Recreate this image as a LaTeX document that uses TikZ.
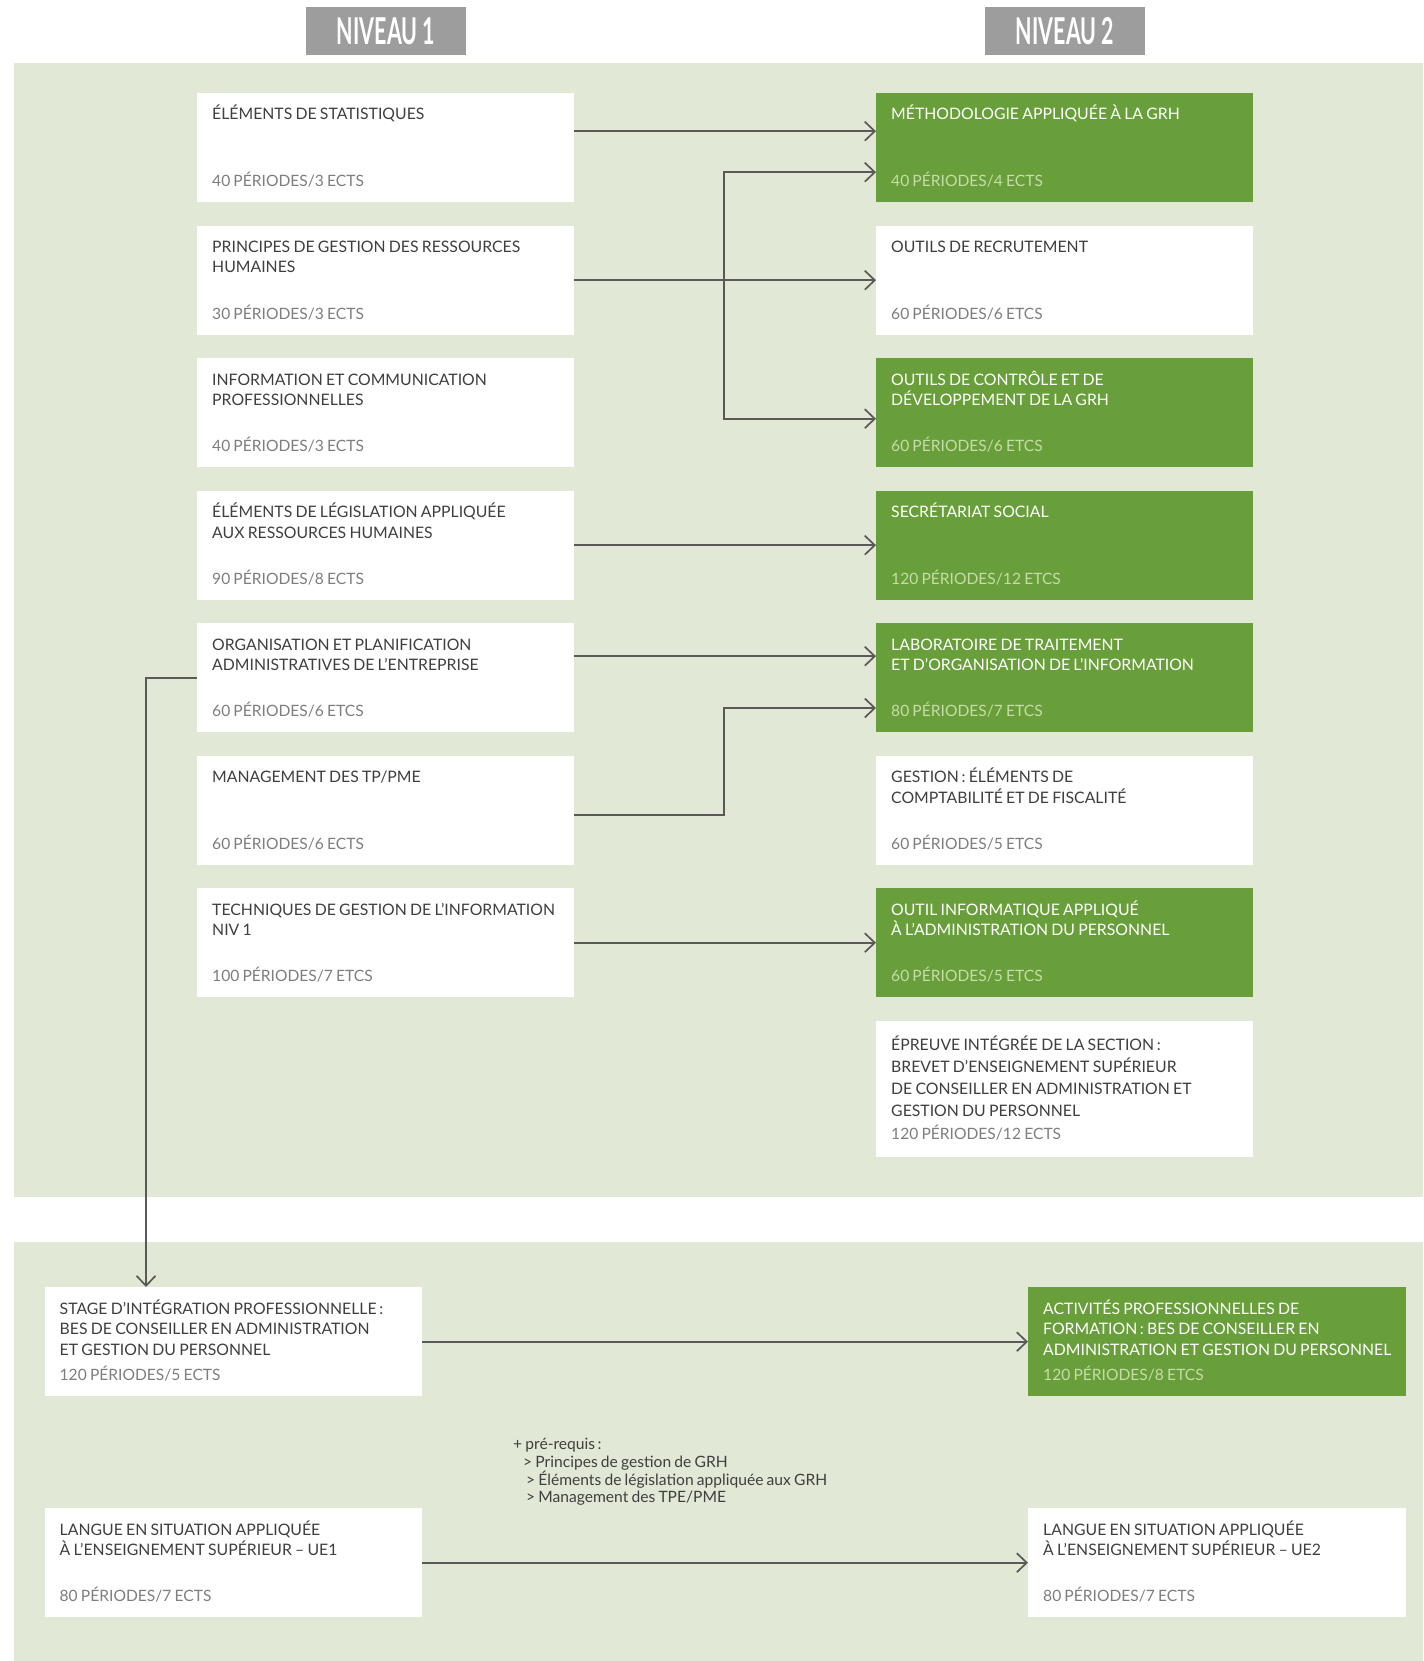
\documentclass[tikz,border=0pt]{standalone}
\usepackage{fontspec}
\setmainfont{Lato}[WordSpace=0.8]
\newfontfamily\headfont[FakeStretch=0.58]{Lato}
\usetikzlibrary{positioning,arrows.meta}
\definecolor{fond}{HTML}{E1E8D5}
\definecolor{vert}{HTML}{689F3A}
\definecolor{gristitre}{HTML}{9D9D9D}
\definecolor{encre}{HTML}{3F3F3F}
\definecolor{pale}{HTML}{7E7E7E}
\definecolor{palevert}{HTML}{C6DCAA}
\definecolor{trait}{HTML}{595959}

\tikzset{
  cours/.style={rectangle, fill=white, anchor=north west, inner sep=0pt,
    minimum width=377pt, minimum height=109pt},
  coursvert/.style={cours, fill=vert},
  % base = ligne du bas du titre
  titre/.style={anchor=base west, align=left, inner sep=0pt, text=encre,
    font=\fontsize{15.8}{20.5}\selectfont},
  titrevert/.style={titre, text=white},
  duree/.style={anchor=base west, inner sep=0pt, text=pale,
    font=\fontsize{15.6}{18}\selectfont},
  dureevert/.style={duree, text=palevert},
  entete/.style={fill=gristitre, text=white, minimum width=160pt,
    minimum height=48pt, inner sep=0pt,
    font=\headfont\bfseries\fontsize{37}{37}\selectfont},
  note/.style={anchor=north west, align=left, inner sep=0pt, text=encre,
    font=\fontsize{15.6}{17.8}\selectfont},
  lien/.style={draw=trait, line width=1.7pt,
    -{Straight Barb[length=10pt,width=19pt]}},
}

\begin{document}
\begin{tikzpicture}[x=1pt,y=-1pt]
  \useasboundingbox (0,0) rectangle (1423,1661);
  % fonds
  \fill[fond] (14,63) rectangle (1423,1197);
  \fill[fond] (14,1242) rectangle (1423,1661);
  % en-tetes
  \node (niv1) [entete] at (386,31) {NIVEAU 1};
  \node (niv2) [entete] at (1065,31) {NIVEAU 2};

  % niveau 1
  \node (stat) [cours] at (197,93) {};
  \node (stat-t) [titre] at ([shift={(15,27)}]stat.north west) {ÉLÉMENTS DE STATISTIQUES};
  \node (stat-d) [duree] at ([shift={(15,-15.5)}]stat.south west) {40 PÉRIODES/3 ECTS};

  \node (grh) [cours] at (197,225.5) {};
  \node (grh-t) [titre] at ([shift={(15,47.5)}]grh.north west) {PRINCIPES DE GESTION DES RESSOURCES\\HUMAINES};
  \node (grh-d) [duree] at ([shift={(15,-15.5)}]grh.south west) {30 PÉRIODES/3 ECTS};

  \node (comm) [cours] at (197,358) {};
  \node (comm-t) [titre] at ([shift={(15,47.5)}]comm.north west) {INFORMATION ET COMMUNICATION\\PROFESSIONNELLES};
  \node (comm-d) [duree] at ([shift={(15,-15.5)}]comm.south west) {40 PÉRIODES/3 ECTS};

  \node (legis) [cours] at (197,490.5) {};
  \node (legis-t) [titre] at ([shift={(15,47.5)}]legis.north west) {ÉLÉMENTS DE LÉGISLATION APPLIQUÉE\\AUX RESSOURCES HUMAINES};
  \node (legis-d) [duree] at ([shift={(15,-15.5)}]legis.south west) {90 PÉRIODES/8 ECTS};

  \node (orga) [cours] at (197,623) {};
  \node (orga-t) [titre] at ([shift={(15,47.5)}]orga.north west) {ORGANISATION ET PLANIFICATION\\ADMINISTRATIVES DE L’ENTREPRISE};
  \node (orga-d) [duree] at ([shift={(15,-15.5)}]orga.south west) {60 PÉRIODES/6 ETCS};

  \node (mgmt) [cours] at (197,755.5) {};
  \node (mgmt-t) [titre] at ([shift={(15,27)}]mgmt.north west) {MANAGEMENT DES TP/PME};
  \node (mgmt-d) [duree] at ([shift={(15,-15.5)}]mgmt.south west) {60 PÉRIODES/6 ECTS};

  \node (tech) [cours] at (197,888) {};
  \node (tech-t) [titre] at ([shift={(15,47.5)}]tech.north west) {TECHNIQUES DE GESTION DE L’INFORMATION\\NIV 1};
  \node (tech-d) [duree] at ([shift={(15,-15.5)}]tech.south west) {100 PÉRIODES/7 ETCS};

  % niveau 2
  \node (meth) [coursvert] at (876,93) {};
  \node (meth-t) [titrevert] at ([shift={(15,27)}]meth.north west) {MÉTHODOLOGIE APPLIQUÉE À LA GRH};
  \node (meth-d) [dureevert] at ([shift={(15,-15.5)}]meth.south west) {40 PÉRIODES/4 ECTS};

  \node (recru) [cours] at (876,225.5) {};
  \node (recru-t) [titre] at ([shift={(15,27)}]recru.north west) {OUTILS DE RECRUTEMENT};
  \node (recru-d) [duree] at ([shift={(15,-15.5)}]recru.south west) {60 PÉRIODES/6 ETCS};

  \node (ctrl) [coursvert] at (876,358) {};
  \node (ctrl-t) [titrevert] at ([shift={(15,47.5)}]ctrl.north west) {OUTILS DE CONTRÔLE ET DE\\DÉVELOPPEMENT DE LA GRH};
  \node (ctrl-d) [dureevert] at ([shift={(15,-15.5)}]ctrl.south west) {60 PÉRIODES/6 ETCS};

  \node (secr) [coursvert] at (876,490.5) {};
  \node (secr-t) [titrevert] at ([shift={(15,27)}]secr.north west) {SECRÉTARIAT SOCIAL};
  \node (secr-d) [dureevert] at ([shift={(15,-15.5)}]secr.south west) {120 PÉRIODES/12 ETCS};

  \node (labo) [coursvert] at (876,623) {};
  \node (labo-t) [titrevert] at ([shift={(15,47.5)}]labo.north west) {LABORATOIRE DE TRAITEMENT\\ET D’ORGANISATION DE L’INFORMATION};
  \node (labo-d) [dureevert] at ([shift={(15,-15.5)}]labo.south west) {80 PÉRIODES/7 ETCS};

  \node (compta) [cours] at (876,755.5) {};
  \node (compta-t) [titre] at ([shift={(15,47.5)}]compta.north west) {GESTION\,: ÉLÉMENTS DE\\COMPTABILITÉ ET DE FISCALITÉ};
  \node (compta-d) [duree] at ([shift={(15,-15.5)}]compta.south west) {60 PÉRIODES/5 ETCS};

  \node (info) [coursvert] at (876,888) {};
  \node (info-t) [titrevert] at ([shift={(15,47.5)}]info.north west) {OUTIL INFORMATIQUE APPLIQUÉ\\À L’ADMINISTRATION DU PERSONNEL};
  \node (info-d) [dureevert] at ([shift={(15,-15.5)}]info.south west) {60 PÉRIODES/5 ETCS};

  \node (epreuve) [cours, minimum height=136pt] at (876,1020.5) {};
  \node (epreuve-t) [titre, font=\fontsize{15.8}{22}\selectfont] at ([shift={(15,96)}]epreuve.north west) {ÉPREUVE INTÉGRÉE DE LA SECTION\,:\\BREVET D’ENSEIGNEMENT SUPÉRIEUR\\DE CONSEILLER EN ADMINISTRATION ET\\GESTION DU PERSONNEL};
  \node (epreuve-d) [duree] at ([shift={(15,-17)}]epreuve.south west) {120 PÉRIODES/12 ECTS};

  % bas
  \node (stage) [cours, minimum width=377.5pt] at (44.5,1287) {};
  \node (stage-t) [titre] at ([shift={(15,68)}]stage.north west) {STAGE D’INTÉGRATION PROFESSIONNELLE\,:\\BES DE CONSEILLER EN ADMINISTRATION\\ET GESTION DU PERSONNEL};
  \node (stage-d) [duree] at ([shift={(15,-15.5)}]stage.south west) {120 PÉRIODES/5 ECTS};

  \node (activ) [coursvert, minimum width=377.5pt] at (1028,1287) {};
  \node (activ-t) [titrevert] at ([shift={(15,68)}]activ.north west) {ACTIVITÉS PROFESSIONNELLES DE\\FORMATION\,: BES DE CONSEILLER EN\\ADMINISTRATION ET GESTION DU PERSONNEL};
  \node (activ-d) [dureevert] at ([shift={(15,-15.5)}]activ.south west) {120 PÉRIODES/8 ETCS};

  \node (prereq) [note] at (513,1438) {+ pré-requis\,:\\\hspace*{10pt}> Principes de gestion de GRH\\\hspace*{13pt}> Éléments de législation appliquée aux GRH\\\hspace*{13pt}> Management des TPE/PME};

  \node (langA) [cours, minimum width=377.5pt] at (44.5,1508) {};
  \node (langA-t) [titre] at ([shift={(15,47.5)}]langA.north west) {LANGUE EN SITUATION APPLIQUÉE\\À L’ENSEIGNEMENT SUPÉRIEUR – UE1};
  \node (langA-d) [duree] at ([shift={(15,-15.5)}]langA.south west) {80 PÉRIODES/7 ECTS};

  \node (langB) [cours, minimum width=377.5pt] at (1028,1508) {};
  \node (langB-t) [titre] at ([shift={(15,47.5)}]langB.north west) {LANGUE EN SITUATION APPLIQUÉE\\À L’ENSEIGNEMENT SUPÉRIEUR – UE2};
  \node (langB-d) [duree] at ([shift={(15,-15.5)}]langB.south west) {80 PÉRIODES/7 ECTS};

  % liens
  \coordinate (fourche) at (724,280);
  \coordinate (coude) at (724,708);
  \coordinate (descente) at (146,678);
  \draw[lien] ([yshift=16.5pt]stat.east) -- ([yshift=16.5pt]stat.east -| meth.west);
  \draw[lien] (grh.east) -- (recru.west);
  \draw[lien] (fourche) |- ([yshift=-24.5pt]meth.west);
  \draw[lien] (fourche) |- ([yshift=-6pt]ctrl.west);
  \draw[lien] (legis.east) -- (secr.west);
  \draw[lien] ([yshift=21.5pt]orga.east) -- ([yshift=21.5pt]orga.east -| labo.west);
  \draw[lien] ([yshift=-4.5pt]mgmt.east) -| (coude) -- (coude -| labo.west);
  \draw[lien] (tech.east) -- (info.west);
  \draw[lien] (orga.west |- descente) -- (descente) -- (descente |- stage.north);
  \draw[lien] (stage.east) -- (activ.west);
  \draw[lien] (langA.east) -- (langB.west);
\end{tikzpicture}
\end{document}
